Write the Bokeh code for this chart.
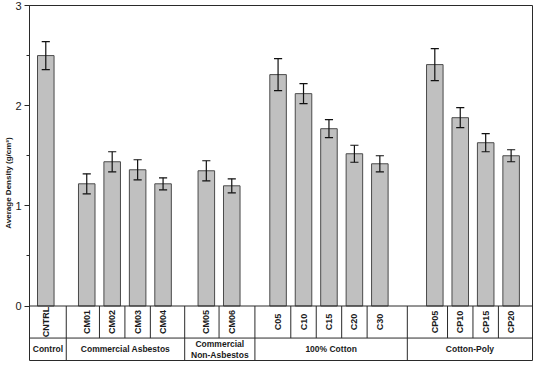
from bokeh.plotting import figure
from bokeh.models import LinearAxis, SingleIntervalTicker, Range1d, ColumnDataSource, FixedTicker
from bokeh.core.properties import value
from bokeh.embed import file_html
from bokeh.resources import INLINE

# ---- data ----
groups = ["Control", "Commercial Asbestos", "Commercial\nNon-Asbestos", "100% Cotton", "Cotton-Poly"]
samples = [["CNTRL"],
           ["CM01", "CM02", "CM03", "CM04"],
           ["CM05", "CM06"],
           ["C05", "C10", "C15", "C20", "C30"],
           ["CP05", "CP10", "CP15", "CP20"]]
density = [2.50, 1.22, 1.44, 1.36, 1.22, 1.35, 1.20,
           2.31, 2.12, 1.77, 1.52, 1.42, 2.41, 1.88, 1.63, 1.50]
error = [0.14, 0.10, 0.10, 0.10, 0.06, 0.10, 0.07,
         0.16, 0.10, 0.09, 0.085, 0.08, 0.16, 0.10, 0.09, 0.06]

# ---- layout (slot units) ----
group_start = [0.64, 2.25, 6.95, 9.77, 15.93]
x_end = 19.77
row1_bottom = -0.32
table_bottom = -0.544

labels, xs = [], []
group_first_last = []
for g, start in enumerate(group_start):
    first = len(xs)
    for i, s in enumerate(samples[g]):
        labels.append(s)
        xs.append(start + i)
    group_first_last.append((first, len(xs) - 1))

FONT = "Liberation Sans"
LINE = "#2a2a2a"
TEXT = "#1a1a1a"

p = figure(width=534, height=362, output_backend="svg", toolbar_location=None,
           x_range=Range1d(0, x_end), y_range=Range1d(table_bottom, 3.0),
           x_axis_type=None, y_axis_type=None,
           min_border_left=27, min_border_right=2, min_border_top=5, min_border_bottom=2)
p.grid.visible = False
p.outline_line_color = LINE
p.outline_line_width = 1
p.background_fill_color = "white"
p.border_fill_color = "white"

yaxis = LinearAxis(bounds=(0, 3), ticker=SingleIntervalTicker(interval=1, num_minor_ticks=2))
yaxis.major_label_text_font = FONT
yaxis.major_label_text_font_size = "11px"
yaxis.major_label_text_color = TEXT
yaxis.major_label_standoff = 3
yaxis.axis_line_color = LINE
yaxis.major_tick_line_color = LINE
yaxis.minor_tick_line_color = LINE
yaxis.major_tick_in = 0
yaxis.major_tick_out = 5
yaxis.minor_tick_in = 0
yaxis.minor_tick_out = 3
p.add_layout(yaxis, "left")

# title axis (label only), centred on the whole frame
taxis = LinearAxis(ticker=FixedTicker(ticks=[]))
taxis.axis_label = "Average Density (g/cm³)"
taxis.axis_label_text_font = FONT
taxis.axis_label_text_font_style = "bold"
taxis.axis_label_text_font_size = "8px"
taxis.axis_label_text_color = TEXT
taxis.axis_label_standoff = 0
taxis.axis_line_color = None
taxis.major_tick_line_color = None
taxis.minor_tick_line_color = None
taxis.major_label_text_font_size = "0px"
taxis.major_label_standoff = 0
taxis.major_tick_out = 0
taxis.minor_tick_out = 0
p.add_layout(taxis, "left")

src = ColumnDataSource(dict(x=xs, top=density, err=error, label=labels,
                            lo=[d - e for d, e in zip(density, error)],
                            hi=[d + e for d, e in zip(density, error)]))

p.vbar(x="x", top="top", bottom=0, width=0.65, source=src,
       fill_color="#c0c0c0", line_color="#4a4a4a", line_width=1)

# error bars
cap = 0.16
p.segment(x0="x", y0="lo", x1="x", y1="hi", source=src, line_color="#111111", line_width=1.2)
p.segment(x0=[x - cap for x in xs], y0=src.data["hi"], x1=[x + cap for x in xs], y1=src.data["hi"],
          line_color="#111111", line_width=1.2)
p.segment(x0=[x - cap for x in xs], y0=src.data["lo"], x1=[x + cap for x in xs], y1=src.data["lo"],
          line_color="#111111", line_width=1.2)

# table lines
p.segment(x0=[0, 0], y0=[0, row1_bottom], x1=[x_end, x_end], y1=[0, row1_bottom],
          line_color=LINE, line_width=1)
seps = [(xs[i] + xs[i + 1]) / 2 for i in range(len(xs) - 1)]
group_seps = [(xs[last] + xs[last + 1]) / 2 for (first, last) in group_first_last[:-1]]
p.segment(x0=seps, y0=[0] * len(seps), x1=seps, y1=[row1_bottom] * len(seps),
          line_color=LINE, line_width=1)
p.segment(x0=group_seps, y0=[row1_bottom] * len(group_seps), x1=group_seps,
          y1=[table_bottom] * len(group_seps), line_color=LINE, line_width=1)

# sample labels (rotated)
p.text(x="x", y=row1_bottom / 2, text="label", source=src, angle=1.5708,
       text_align="center", text_baseline="middle", text_font=value(FONT),
       text_font_style="bold", text_font_size="9px", text_color=TEXT)

# group labels
bounds = [0] + group_seps + [x_end]
gx = [(bounds[i] + bounds[i + 1]) / 2 for i in range(len(groups))]
p.text(x=gx, y=[(row1_bottom + table_bottom) / 2] * len(groups), text=groups,
       text_align="center", text_baseline="middle", text_font=value(FONT),
       text_font_style="bold", text_font_size="8.5px", text_color=TEXT,
       text_line_height=1.1)

open("out.html", "w").write(file_html(p, INLINE))
